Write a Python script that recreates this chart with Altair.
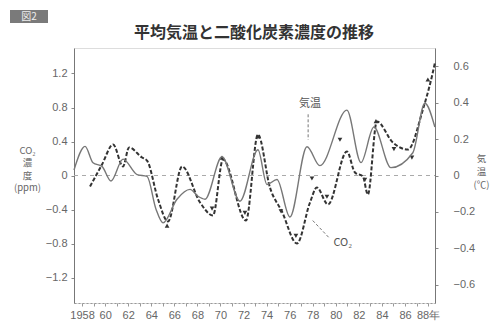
import altair as alt
import pandas as pd

# ---------------- data ----------------
temp_years = [1957.3, 1958.26, 1958.95, 1959.73, 1960.51, 1961.55, 1962.77, 1963.63,
              1964.41, 1965.02, 1966.23, 1967.36, 1968.05, 1968.66, 1970.13, 1971.69,
              1973.25, 1974.03, 1974.9, 1976.02, 1977.5, 1978.62, 1980.96, 1982.18,
              1983.3, 1984.78, 1986.68, 1987.72, 1988.59]
temp_vals = [0.03, 0.16, 0.07, 0.05, -0.03, 0.09, 0.005, -0.005,
             -0.185, -0.26, -0.13, -0.076, -0.114, -0.13, 0.103, -0.141,
             0.141, -0.049, -0.022, -0.228, 0.158, 0.054, 0.359, 0.071,
             0.266, 0.043, 0.125, 0.397, 0.266]

co2_years = [1958.69, 1959.73, 1960.69, 1961.55, 1962.07, 1963.2, 1963.63, 1964.59,
             1965.45, 1966.67, 1968.23, 1969.35, 1970.22, 1972.21, 1973.25, 1974.29,
             1975.33, 1976.63, 1977.76, 1978.36, 1979.32, 1980.96, 1981.66, 1982.35,
             1982.78, 1983.56, 1984.95, 1986.25, 1987.55, 1988.33, 1988.6]
co2_vals = [-0.13, 0.13, 0.365, 0.106, 0.33, 0.212, 0.176, -0.282,
            -0.541, 0.106, -0.318, -0.47, 0.188, -0.529, 0.482, -0.141,
            -0.424, -0.8, -0.318, -0.141, -0.341, 0.282, 0.035, -0.012,
            -0.224, 0.635, 0.388, 0.306, 0.776, 1.165, 1.33]

arrow_years = [1965.37, 1969.27, 1970.13, 1972.12, 1973.25, 1975.24, 1976.54, 1977.93,
               1979.23, 1980.36, 1982.52, 1983.48, 1985.04, 1986.6, 1987.98]
arrow_vals = [-0.59, -0.39, 0.21, -0.44, 0.46, -0.42, -0.71, -0.035,
              -0.25, 0.42, -0.05, 0.64, 0.31, 0.21, 1.13]
arrow_dirs = ["up", "down", "up", "down", "up", "down", "down", "down",
              "down", "down", "down", "up", "down", "down", "up"]

x_tick_years = list(range(1958, 1989))
x_label_years = list(range(1958, 1989, 2))
x_labels = ["1958", "60", "62", "64", "66", "68", "70", "72", "74", "76", "78",
            "80", "82", "84", "86", "88年"]
left_ticks = [-1.2, -0.8, -0.4, 0, 0.4, 0.8, 1.2]
left_labels = ["−1.2", "−0.8", "−0.4", "0", "0.4", "0.8", "1.2"]
right_ticks = [-0.6, -0.4, -0.2, 0, 0.2, 0.4, 0.6]
right_labels = ["−0.6", "−0.4", "−0.2", "0", "0.2", "0.4", "0.6"]

title_text = "平均気温と二酸化炭素濃度の推移"
fig_tag = "図2"
left_title = ["CO₂", "濃", "度", "(ppm)"]
right_title = ["気", "温", "(℃)"]

# annotation labels (in CO2 axis units)
notes = pd.DataFrame({"year": [1977.76, 1980.6], "val": [0.84, -0.79], "txt": ["気温", "CO₂"]})
leaders = pd.DataFrame({"x": [1977.6, 1978.0], "x2": [1977.6, 1979.4],
                        "y": [0.72, -0.53], "y2": [0.42, -0.73]})

# ---------------- helpers ----------------
def label_expr(vals, labels):
    s = ""
    for v, l in zip(vals, labels):
        s += f"abs(datum.value - ({v})) < 1e-6 ? '{l}' : "
    return s + "''"

XMIN, XMAX = 1957.3, 1988.6
LFONT = "Liberation Sans"
JFONT = "Noto Sans CJK JP"
GRAY = "#666"

xscale = alt.Scale(domain=[XMIN, XMAX], nice=False, zero=False)
xaxis = alt.Axis(values=x_tick_years, labelExpr=label_expr(x_label_years, x_labels),
                 labelOverlap=False, labelFlush=False, title=None, grid=False,
                 tickSize=3, tickColor="#999", domainColor="#999", domainDash=[2, 2],
                 labelFont=LFONT, labelFontSize=11, labelColor=GRAY, labelPadding=3)

lscale = alt.Scale(domain=[-1.5, 1.5], nice=False, zero=False)
rscale = alt.Scale(domain=[-0.7, 0.7], nice=False, zero=False)

laxis = alt.Axis(orient="left", values=left_ticks, labelExpr=label_expr(left_ticks, left_labels),
                 labelOverlap=False, grid=False, tickSize=3, tickColor="#888", domainColor="#777",
                 labelFont=LFONT, labelFontSize=11, labelColor=GRAY, labelPadding=4,
                 title=left_title, titleAngle=0, titleX=-47, titleY=97, titleAlign="center",
                 titleBaseline="top", titleFont=JFONT, titleFontSize=9.5, titleFontWeight="normal",
                 titleColor=GRAY, titleLineHeight=12.5)
raxis = alt.Axis(orient="right", values=right_ticks, labelExpr=label_expr(right_ticks, right_labels),
                 labelOverlap=False, grid=False, tickSize=3, tickColor="#888", domainColor="#777",
                 labelFont=LFONT, labelFontSize=11, labelColor=GRAY, labelPadding=15,
                 title=right_title, titleAngle=0, titleX=46, titleY=105, titleAlign="center",
                 titleBaseline="top", titleFont=JFONT, titleFontSize=9.5, titleFontWeight="normal",
                 titleColor=GRAY, titleLineHeight=13)

temp_df = pd.DataFrame({"year": temp_years, "val": temp_vals})
co2_df = pd.DataFrame({"year": co2_years, "val": co2_vals})
arrow_df = pd.DataFrame({"year": arrow_years, "val": arrow_vals, "dir": arrow_dirs})

X = lambda f: alt.X(f, scale=xscale, axis=xaxis)
YL = lambda f: alt.Y(f, scale=lscale, axis=laxis)

co2_line = alt.Chart(co2_df).mark_line(color="#333", strokeWidth=2, strokeDash=[4, 2],
                                       interpolate="monotone").encode(
    x=X("year:Q"), y=YL("val:Q"))
zero = alt.Chart(pd.DataFrame({"year": [XMIN], "year2": [XMAX], "val": [0]})).mark_rule(
    color="#aaa", strokeDash=[4, 4], strokeWidth=1).encode(
    x=X("year:Q"), x2="year2:Q", y=YL("val:Q"))
arrows = alt.Chart(arrow_df).mark_point(filled=True, size=22, color="#333", opacity=1).encode(
    x=X("year:Q"), y=YL("val:Q"),
    shape=alt.Shape("dir:N", scale=alt.Scale(domain=["up", "down"], range=["triangle-up", "triangle-down"]),
                    legend=None),
)
lead = alt.Chart(leaders).mark_rule(color="#777", strokeDash=[3, 2], strokeWidth=1).encode(
    x=X("x:Q"), x2="x2:Q", y=YL("y:Q"), y2="y2:Q")
note_txt = alt.Chart(notes).mark_text(font=JFONT, fontSize=11, color="#555", baseline="middle").encode(
    x=X("year:Q"), y=YL("val:Q"), text="txt:N")

deco = pd.DataFrame({"t": [fig_tag], "title": [title_text]})
tag_box = alt.Chart(deco).mark_rect(color="#7a7a7a").encode(
    x=alt.value(-64), x2=alt.value(-26), y=alt.value(-38), y2=alt.value(-25))
tag_txt = alt.Chart(deco).mark_text(font=JFONT, fontSize=10, color="#eee", baseline="middle").encode(
    x=alt.value(-45), y=alt.value(-31.5), text="t:N")
title_mark = alt.Chart(deco).mark_text(font=JFONT, fontSize=16, fontWeight="bold", color="#333",
                                       baseline="middle").encode(
    x=alt.value(180), y=alt.value(-15), text="title:N")

left_layer = alt.layer(zero, co2_line, lead, note_txt, arrows, tag_box, tag_txt, title_mark)

temp_line = alt.Chart(temp_df).mark_line(color="#777", strokeWidth=1.4, interpolate="monotone").encode(
    x=X("year:Q"),
    y=alt.Y("val:Q", scale=rscale, axis=raxis),
)

chart = alt.layer(left_layer, temp_line).resolve_scale(y="independent").properties(
    width=361, height=255,
    autosize=alt.AutoSizeParams(type="none"),
    padding={"left": 66, "top": 40, "right": 55, "bottom": 22},
).configure_view(stroke="#aaa", strokeDash=[2, 2], strokeWidth=1).configure(background="white")

chart.save("out.html", embed_options={"renderer": "svg", "actions": False})
